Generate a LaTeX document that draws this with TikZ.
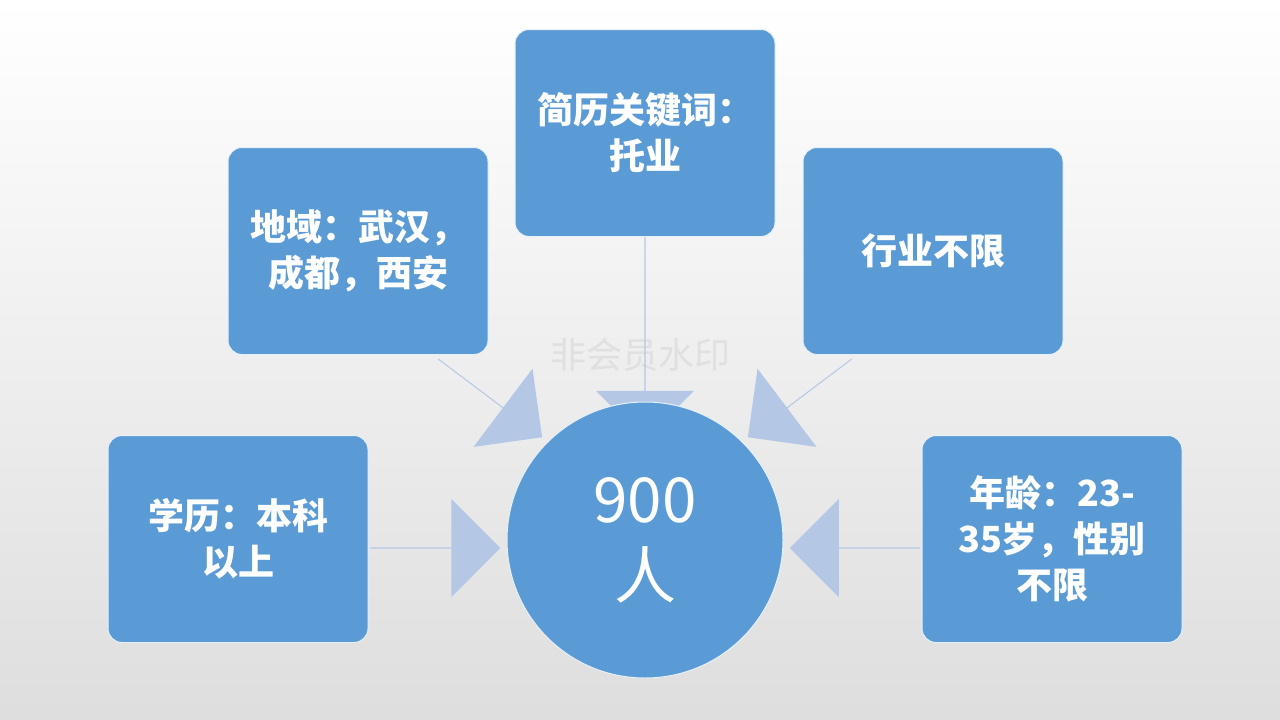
\documentclass[tikz,border=0pt]{standalone}
\usepackage{fontspec}
\newfontfamily\cjk{Noto Sans CJK SC}
\usetikzlibrary{shapes.arrows}
\definecolor{boxc}{HTML}{5B9BD5}
\definecolor{arrc}{HTML}{B4C8E6}
\tikzset{
  box/.style={draw=white!85!boxc, line width=1pt, fill=boxc, rounded corners=14pt, minimum width=260pt, minimum height=207pt, text width=250pt, align=center, text=white, font=\cjk\bfseries\fontsize{36}{46}\selectfont},
  barrow/.style={single arrow, fill=arrc, draw=none, minimum width=98pt, single arrow head extend=19pt, single arrow head indent=0pt, inner sep=0pt}
}
\begin{document}
\begin{tikzpicture}[x=1pt,y=-1pt]
\shade[top color=white, bottom color=black!13] (0,0) rectangle (1280,720);
\useasboundingbox (0,0) rectangle (1280,720);
\node[text=black!12, font=\cjk\fontsize{36}{40}\selectfont] (wm) at (640,355) {非会员水印};
\node[barrow, minimum height=130pt] (a1) at (435,548) {};
\node[barrow, minimum height=130pt, rotate=180] (a2) at (855,548) {};
\node[barrow, minimum height=203pt, rotate=-90] (a3) at (645,338) {};
\node[barrow, minimum height=130pt, rotate=-37] (a4) at (490,398) {};
\node[barrow, minimum height=130pt, rotate=-143] (a5) at (800,398) {};
\node[box] (top) at (645,133) {简历关键词：\\托业};
\node[box] (ul) at (358,251) {地域：武汉，\\成都，西安};
\node[box] (ur) at (933,251) {行业不限};
\node[box] (ll) at (238,539) {学历：本科\\以上};
\node[box] (lr) at (1052,539) {年龄：23-\\35岁，性别\\不限};
\node[circle, fill=boxc, draw=white!85!boxc, line width=1pt, minimum size=276pt, align=center, text=white, font=\cjk\fontsize{62}{76}\selectfont] (c) at (645,540) {900\\人};
\end{tikzpicture}
\end{document}
